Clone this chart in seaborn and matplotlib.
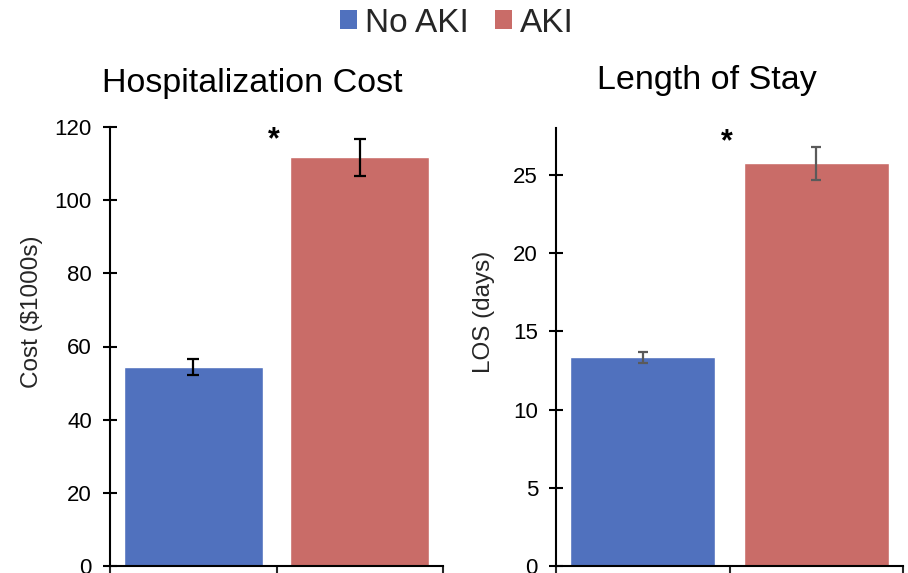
import matplotlib
matplotlib.use("Agg")
import matplotlib.pyplot as plt
import seaborn as sns
import pandas as pd
from matplotlib.patches import Patch

# Outcome data by group
groups = ["No AKI", "AKI"]
cost_means = [54.4, 111.7]        # $1000s
cost_errs = [2.1, 5.0]
los_means = [13.33, 25.75]        # days
los_errs = [0.35, 1.05]
colors = ["#5071BE", "#C96C68"]

sns.set_theme(style="white")
plt.rcParams["font.family"] = ["Liberation Sans", "DejaVu Sans"]

fig = plt.figure(figsize=(9.08, 5.73), dpi=100)
ax1 = fig.add_axes([110 / 908, 7 / 573, 333 / 908, 439 / 573])
ax2 = fig.add_axes([556 / 908, 7 / 573, 347 / 908, 438 / 573])


def panel(ax, means, errs, ylim, yticks, ylabel, label_x, ecolor, capsize, star_y):
    df = pd.DataFrame({"group": groups, "value": means})
    sns.barplot(data=df, x="group", y="value", hue="group", palette=colors,
                order=groups, hue_order=groups, width=0.835, legend=False,
                ax=ax, errorbar=None, saturation=1)
    ax.errorbar(range(len(groups)), means, yerr=errs, fmt="none",
                ecolor=ecolor, elinewidth=1.6, capsize=capsize, capthick=1.6)
    ax.set_xlim(-0.5, 1.5)
    ax.set_ylim(*ylim)
    ax.set_yticks(yticks)
    ax.set_xticks([-0.5, 0.5, 1.5])
    ax.set_xticklabels([])
    ax.set_xlabel("")
    ax.set_ylabel(ylabel, fontsize=17.5)
    ax.yaxis.set_label_coords(label_x, 0.58)
    ax.tick_params(axis="y", direction="inout", length=10, width=1.5,
                   labelsize=16, pad=8, colors="black", left=True)
    ax.tick_params(axis="x", direction="out", length=7, width=1.5, bottom=True)
    for side in ["top", "right"]:
        ax.spines[side].set_visible(False)
    for side in ["left", "bottom"]:
        ax.spines[side].set_color("black")
        ax.spines[side].set_linewidth(1.5)
    ax.text(0.485, star_y, "*", ha="center", va="center",
            fontsize=22, fontweight="bold", color="black")


panel(ax1, cost_means, cost_errs, (0, 120), range(0, 121, 20),
      "Cost ($1000s)", -0.2, "black", 4.2, 116.5)
panel(ax2, los_means, los_errs, (0, 28), range(0, 26, 5),
      "LOS (days)", -0.175, "#5a5a5a", 3.6, 27.1)

fig.text(252 / 908, 1 - 84 / 573, "Hospitalization Cost", ha="center",
         va="center", fontsize=24.5, color="black")
fig.text(707 / 908, 1 - 81 / 573, "Length of Stay", ha="center",
         va="center", fontsize=24.5, color="black")

handles = [Patch(facecolor=c, edgecolor="none") for c in colors]
fig.legend(handles, groups, loc="center", bbox_to_anchor=(457 / 908, 1 - 23 / 573),
           ncol=2, frameon=False, fontsize=24, handlelength=0.5,
           handleheight=0.5, handletextpad=0.25, columnspacing=0.8,
           borderpad=0)

fig.savefig("out.png", dpi=100)
